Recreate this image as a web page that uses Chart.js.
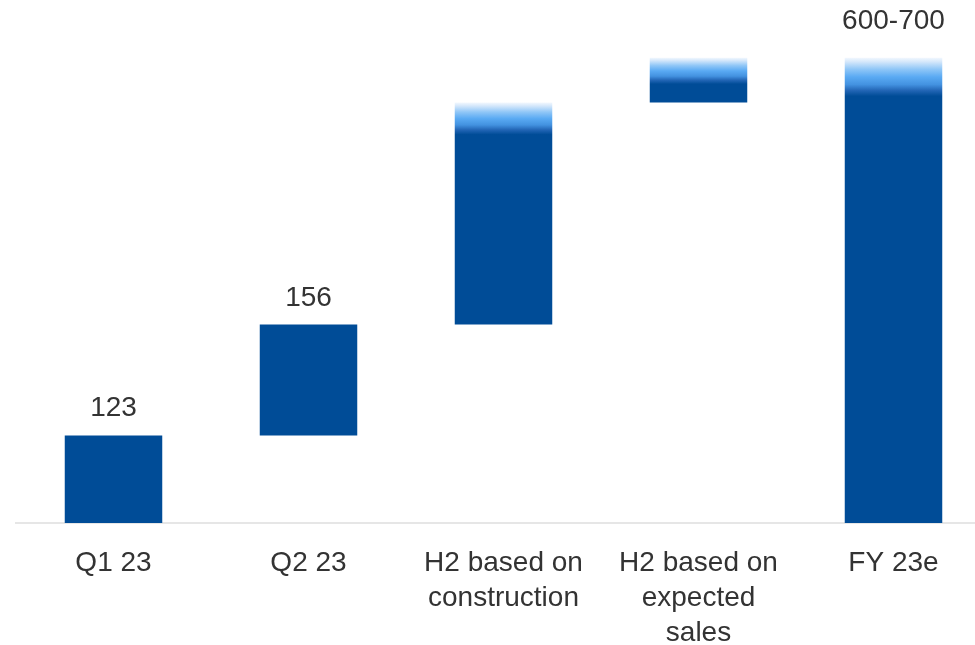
<!DOCTYPE html>
<html>
<head>
<meta charset="utf-8">
<script src="https://cdn.jsdelivr.net/npm/chart.js@4"></script>
<style>
  html, body { margin: 0; padding: 0; background: #fff; overflow: hidden; }
  canvas { display: block; }
</style>
</head>
<body>
<canvas id="bridgeChart" width="991" height="645"></canvas>
<script>
// Bridge from Q1 to full-year estimate
const categories = ['Q1 23', 'Q2 23', ['H2 based on', 'construction'], ['H2 based on', 'expected', 'sales'], 'FY 23e'];
const barStart = [0, 123, 279, 591, 0];
const barEnd = [123, 279, 591, 654, 654];
// above this value the bar fades out (estimate range)
const solidTo = [123, 279, 546, 617, 600];
const valueLabels = ['123', '156', null, null, '600-700'];
const labelGap = [19, 19, 0, 0, 29];

const darkBlue = '#004c97';
const fontFamily = '"Liberation Sans", Arial, sans-serif';

function fadeFill(context) {
    const chart = context.chart;
    const i = context.dataIndex;
    if (!chart.chartArea || solidTo[i] >= barEnd[i]) return darkBlue;
    const y = chart.scales.y;
    const top = y.getPixelForValue(barEnd[i]);
    const solid = y.getPixelForValue(solidTo[i]);
    const g = chart.ctx.createLinearGradient(0, top, 0, solid);
    g.addColorStop(0, '#f2f8fe');
    g.addColorStop(0.1, '#d6e8fb');
    g.addColorStop(0.3, '#8fc6f7');
    g.addColorStop(0.5, '#5aaaf3');
    g.addColorStop(0.7, '#4392e0');
    g.addColorStop(0.85, '#2366b6');
    g.addColorStop(1, darkBlue);
    return g;
}

// numbers above the bars
const barLabels = {
    id: 'barLabels',
    afterDatasetsDraw(chart) {
        const ctx = chart.ctx;
        const meta = chart.getDatasetMeta(0);
        ctx.save();
        ctx.font = '28px ' + fontFamily;
        ctx.fillStyle = '#333333';
        ctx.textAlign = 'center';
        ctx.textBaseline = 'alphabetic';
        meta.data.forEach((bar, i) => {
            if (!valueLabels[i]) return;
            const top = chart.scales.y.getPixelForValue(barEnd[i]);
            ctx.fillText(valueLabels[i], bar.x, top - labelGap[i]);
        });
        ctx.restore();
    }
};

const ctx = document.getElementById('bridgeChart').getContext('2d');
const bridgeChart = new Chart(ctx, {
    type: 'bar',
    data: {
        labels: categories,
        datasets: [{
            data: barStart.map((s, i) => [s, barEnd[i]]),
            backgroundColor: fadeFill,
            borderWidth: 0,
            barPercentage: 0.5,
            categoryPercentage: 1.0
        }]
    },
    options: {
        responsive: false,
        animation: false,
        layout: { padding: { left: 16, top: 25, right: 0, bottom: 0 } },
        plugins: {
            legend: { display: false },
            tooltip: { enabled: false }
        },
        scales: {
            x: {
                grid: { display: false, drawTicks: false },
                border: { display: true, color: '#e6e6e6', width: 2 },
                ticks: {
                    color: '#333333',
                    padding: 23,
                    maxRotation: 0,
                    autoSkip: false,
                    font: { family: fontFamily, size: 28, lineHeight: 1.25 }
                },
                afterFit(scale) { scale.height = 122; }
            },
            y: {
                display: false,
                min: 0,
                max: 700
            }
        }
    },
    plugins: [barLabels]
});
</script>
</body>
</html>
